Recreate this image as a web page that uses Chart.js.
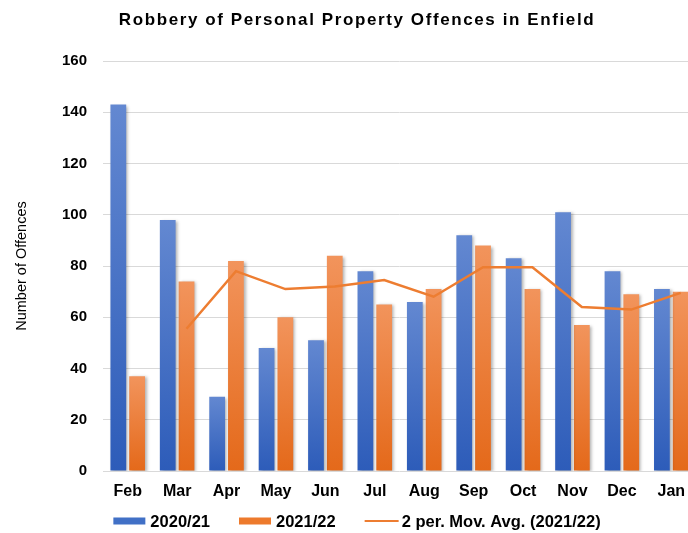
<!DOCTYPE html>
<html lang="en">
  <head>
    <meta charset="UTF-8" />
    <title>Robbery of Personal Property Offences in Enfield</title>
    <style>
      body {
        margin: 0;
        background: #fff;
        overflow: hidden;
      }
      .chart-container {
        width: 714px;
        height: 533px;
      }
    </style>
  </head>
  <body>
    <div class="chart-container">
      <canvas id="robberyChart" width="714" height="533"></canvas>
    </div>

    <script src="https://cdn.jsdelivr.net/npm/chart.js@4"></script>
    <script>
      // values
      const months = ["Feb", "Mar", "Apr", "May", "Jun", "Jul", "Aug", "Sep", "Oct", "Nov", "Dec", "Jan"];
      const offences2020 = [143, 98, 29, 48, 51, 78, 66, 92, 83, 101, 78, 71];
      const offences2021 = [37, 74, 82, 60, 84, 65, 71, 88, 71, 57, 69, 70];
      const movingAvg2021 = [null, 55.5, 78, 71, 72, 74.5, 68, 79.5, 79.5, 64, 63, 69.5];
      const yMin = 0;
      const yMax = 160;
      const yStep = 20;
      const chartTitle = "Robbery of Personal Property Offences in Enfield";

      const FONT = "'Liberation Sans', Arial, sans-serif";

      // Excel style vertical gradient, light at the top of each bar
      function barGradient(top, bottom, fallback) {
        return (ctx) => {
          const chart = ctx.chart;
          if (!chart.chartArea || ctx.raw == null) return fallback;
          const y = chart.scales.y;
          const g = chart.ctx.createLinearGradient(0, y.getPixelForValue(ctx.raw), 0, y.getPixelForValue(0));
          g.addColorStop(0, top);
          g.addColorStop(1, bottom);
          return g;
        };
      }

      const excelLook = {
        id: "excelLook",
        // bar shadows, and the trendline moved over the centre of the orange bars
        beforeDatasetDraw(chart, args) {
          const c = chart.ctx;
          c.save();
          if (args.meta.type === "bar") {
            c.shadowColor = "rgba(0,0,0,0.3)";
            c.shadowBlur = 3;
            c.shadowOffsetX = 2;
            c.shadowOffsetY = 1;
          } else {
            const orange = chart.getDatasetMeta(1).data[0];
            c.translate(orange.x - chart.scales.x.getPixelForValue(0), 0);
          }
        },
        afterDatasetDraw(chart) {
          chart.ctx.restore();
        },
        // title and legend, centred on the full (uncropped) chart width
        afterDraw(chart) {
          const c = chart.ctx;
          const mid = (chart.chartArea.right + 18) / 2;
          c.save();
          c.fillStyle = "#000";
          c.textBaseline = "middle";

          c.font = "bold 17px " + FONT;
          c.letterSpacing = "1.6px";
          c.textAlign = "center";
          c.fillText(chartTitle, mid, 20);

          c.letterSpacing = "0px";
          c.font = "bold 16.5px " + FONT;
          c.textAlign = "left";
          const swatch = 32;
          const gap = 5;
          const spacing = 29;
          const items = chart.data.datasets.map((ds) => ({
            text: ds.label,
            color: ds.legendColor,
            line: ds.type === "line",
            w: c.measureText(ds.label).width,
          }));
          const total = items.reduce((s, it) => s + swatch + gap + it.w, 0) + spacing * (items.length - 1);
          let x = mid - total / 2;
          const y = 521;
          items.forEach((it) => {
            if (it.line) {
              c.strokeStyle = it.color;
              c.lineWidth = 2;
              c.beginPath();
              c.moveTo(x, y);
              c.lineTo(x + swatch + 2, y);
              c.stroke();
            } else {
              c.fillStyle = it.color;
              c.fillRect(x, y - 3.5, swatch, 7);
            }
            c.fillStyle = "#000";
            c.fillText(it.text, x + swatch + gap, y + 1);
            x += swatch + gap + it.w + spacing;
          });
          c.restore();
        },
      };

      const config = {
        type: "bar",
        data: {
          labels: months,
          datasets: [
            {
              label: "2020/21",
              data: offences2020,
              backgroundColor: barGradient("#6388d1", "#2d5cb9", "#4472c4"),
              legendColor: "#4170c6",
              categoryPercentage: 0.76,
              barPercentage: 0.84,
              order: 2,
            },
            {
              label: "2021/22",
              data: offences2021,
              backgroundColor: barGradient("#f2945c", "#e4691a", "#ed7d31"),
              legendColor: "#ed7a2c",
              categoryPercentage: 0.76,
              barPercentage: 0.84,
              order: 2,
            },
            {
              type: "line",
              label: "2 per. Mov. Avg. (2021/22)",
              data: movingAvg2021,
              borderColor: "#ed7d31",
              legendColor: "#ed7d31",
              borderWidth: 2.5,
              pointRadius: 0,
              tension: 0,
              order: 1,
            },
          ],
        },
        options: {
          responsive: false,
          animation: false,
          layout: { padding: { left: 18, right: 18, top: 61, bottom: 32 } },
          plugins: {
            tooltip: { enabled: false },
            title: { display: false },
            legend: { display: false },
          },
          scales: {
            x: {
              grid: { display: false, drawTicks: false },
              border: { display: false },
              ticks: {
                color: "#000",
                padding: 11,
                font: { family: FONT, size: 16, weight: "bold" },
              },
              afterFit: (s) => {
                s.height = 30;
              },
            },
            y: {
              min: yMin,
              max: yMax,
              grid: { color: "#d9d9d9", drawTicks: false },
              border: { display: false },
              ticks: {
                stepSize: yStep,
                color: "#000",
                padding: 16,
                font: { family: FONT, size: 15, weight: "bold" },
              },
              title: {
                display: true,
                text: "Number of Offences",
                color: "#000",
                font: { family: FONT, size: 14.5 },
                padding: { top: -5, bottom: 0 },
              },
              afterFit: (s) => {
                s.width = 85;
              },
            },
          },
        },
        plugins: [excelLook],
      };

      const robberyChart = new Chart(document.getElementById("robberyChart"), config);
    </script>
  </body>
</html>
